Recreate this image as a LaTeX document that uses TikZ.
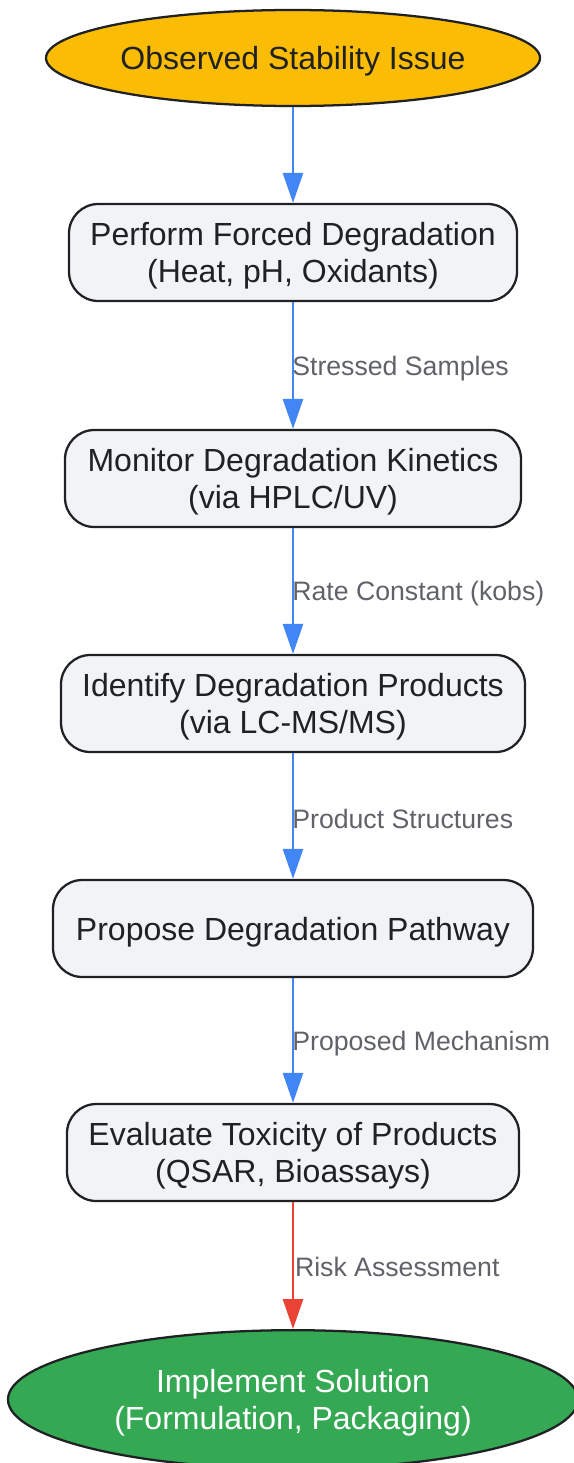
\documentclass[tikz,border=0pt]{standalone}
\usepackage{fontspec}
\setmainfont{Liberation Sans}
\usetikzlibrary{shapes.geometric,arrows.meta}
\definecolor{ybg}{HTML}{FBBC05}
\definecolor{gbg}{HTML}{34A853}
\definecolor{boxbg}{HTML}{F1F3F4}
\definecolor{ink}{HTML}{202124}
\definecolor{bluel}{HTML}{4285F4}
\definecolor{redl}{HTML}{EA4335}
\definecolor{lblc}{HTML}{5F6368}
\newcommand\ntxt[1]{\setbox0\hbox{\begin{tabular}{@{}c@{}}#1\end{tabular}}%
  \dimen0=\ht0 \dimen2=\dp0 \setbox0\hbox{\lower3.4pt\box0}\ht0=\dimen0 \dp0=\dimen2 \box0}
\tikzset{
  stepbox/.style={draw=ink, line width=1.7pt, fill=boxbg, rounded corners=22pt,
    minimum height=72.75pt, inner sep=0pt, text=ink,
    font=\fontsize{24}{27.75}\selectfont},
  termnode/.style={ellipse, draw=ink, line width=1.7pt, inner sep=0pt,
    font=\fontsize{24}{27.75}\selectfont},
  conn/.style={line width=2pt, -{Triangle[width=15pt,length=22.5pt]}},
  edgelbl/.style={anchor=west, inner sep=0pt, text=lblc, xshift=-1.5pt, yshift=-2.25pt,
    font=\fontsize{20}{24}\selectfont}
}
\begin{document}
\begin{tikzpicture}[x=0.75pt,y=-0.75pt]
\useasboundingbox (0,0) rectangle (574,1463);
\node[termnode, fill=ybg, text=ink, minimum width=370.5pt, minimum height=72pt] (start) at (293,58) {\ntxt{Observed Stability Issue}};
\node[stepbox, minimum width=336pt] (b1) at (293,252.5) {\ntxt{Perform Forced Degradation\\(Heat, pH, Oxidants)}};
\node[stepbox, minimum width=342pt] (b2) at (293,478.5) {\ntxt{Monitor Degradation Kinetics\\(via HPLC/UV)}};
\node[stepbox, minimum width=348pt] (b3) at (293,703.5) {\ntxt{Identify Degradation Products\\(via LC-MS/MS)}};
\node[stepbox, minimum width=360pt] (b4) at (293,928.5) {\ntxt{Propose Degradation Pathway}};
\node[stepbox, minimum width=339pt] (b5) at (293,1152.5) {\ntxt{Evaluate Toxicity of Products\\(QSAR, Bioassays)}};
\node[termnode, fill=gbg, text=white, minimum width=427.5pt, minimum height=104pt] (end) at (293,1399.5) {\ntxt{Implement Solution\\(Formulation, Packaging)}};
\draw[conn, bluel] (start.south) -- (b1.north);
\draw[conn, bluel] (b1.south) -- node[edgelbl, pos=0.5] {Stressed Samples} (b2.north);
\draw[conn, bluel] (b2.south) -- node[edgelbl, pos=0.5] {Rate Constant (kobs)} (b3.north);
\draw[conn, bluel] (b3.south) -- node[edgelbl, pos=0.5] {Product Structures} (b4.north);
\draw[conn, bluel] (b4.south) -- node[edgelbl, pos=0.5] {Proposed Mechanism} (b5.north);
\draw[conn, redl] (b5.south) -- node[edgelbl, pos=0.5, xshift=2pt, yshift=1.5pt] {Risk Assessment} (end.north);
\end{tikzpicture}
\end{document}
